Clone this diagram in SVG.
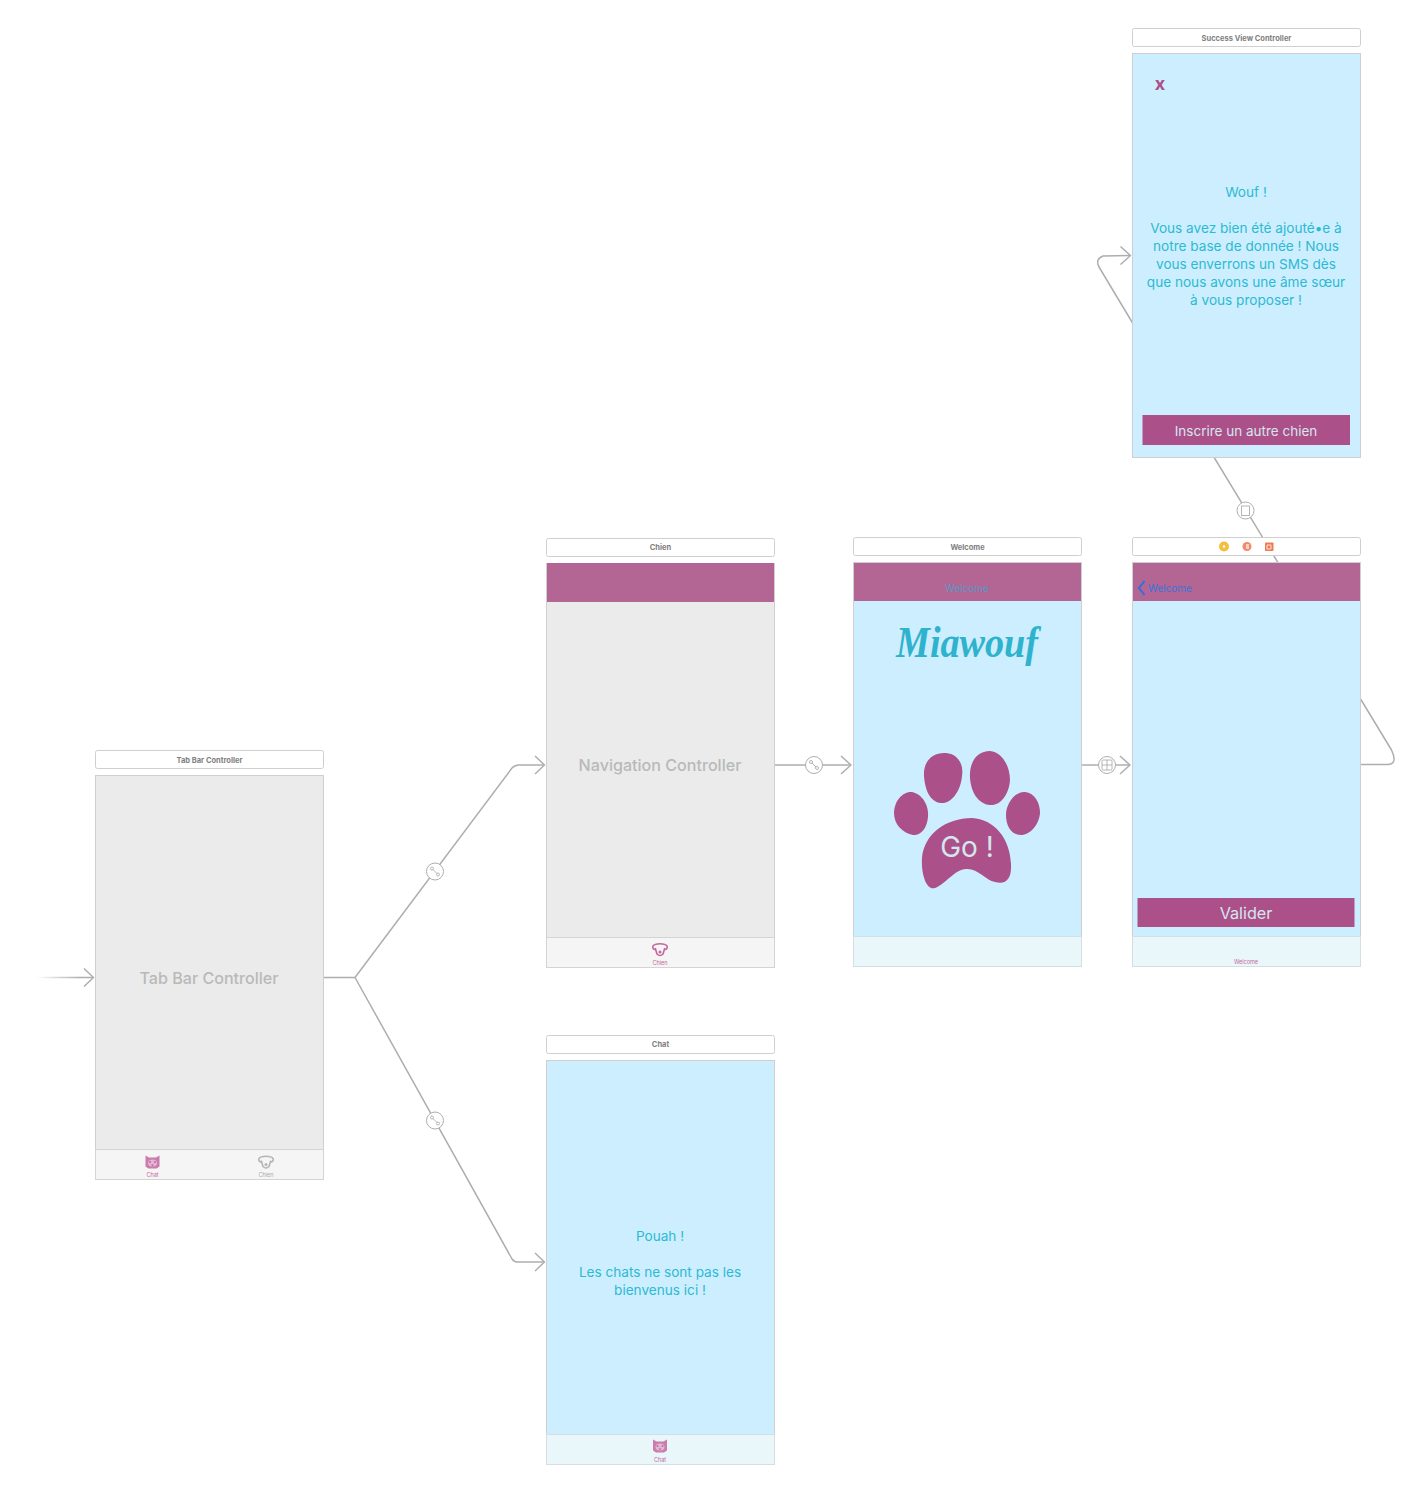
<svg xmlns="http://www.w3.org/2000/svg" width="1428" height="1498" viewBox="0 0 1428 1498">
<style>
text{font-family:"Inter","Liberation Sans",sans-serif;text-anchor:middle}
.title{fill:#fff;stroke:#cfcfcf;stroke-width:1}
.tt{font-size:7.5px;font-weight:700;fill:#808080}
.scr{stroke:#cfcfcf;stroke-width:1}
.blue{fill:#cdeeff}.grey{fill:#ebebeb}
.nav{fill:#b36693}
.bar{fill:#f5f5f5;stroke:#d4d4d4;stroke-width:1}
.bar2{fill:#e9f6fa;stroke:#d4dfe3;stroke-width:1}
.msg{font-size:13.6px;fill:#2cbad2}
.ph{font-size:16.1px;font-weight:500;fill:#b9b9b9}
.tab{font-size:5.5px;fill:#c4669f}
.btn{fill:#ab5088}
.line{fill:none;stroke:#aeaeae;stroke-width:1.5;stroke-linejoin:round}
.badge{fill:#fff;stroke:#aeaeae;stroke-width:1}
.ic{fill:none;stroke:#aeaeae;stroke-width:.9}
.cat{fill:#c4669f;fill-opacity:.85}
</style>
<defs>
<linearGradient id="fade" gradientUnits="userSpaceOnUse" x1="36" y1="0" x2="80" y2="0"><stop offset="0" stop-color="#aeaeae" stop-opacity="0"/><stop offset="1" stop-color="#aeaeae"/></linearGradient>
<g id="cat"><path d="M-7-6.500-3.500-4.500H3.500L7-6.500V4.500L4 6.500H-4L-7 4.500Z" class="cat"/><ellipse cx="0" cy="1" rx="4.500" ry="3.500" fill="#fff" fill-opacity=".45"/><circle cx="-2.500" cy="0" r="1" fill="#c4669f"/><circle cx="2.500" cy="0" r="1" fill="#c4669f"/><path d="M-1.500 2.500H1.500L0 4.500Z" fill="#c4669f"/></g>
<g id="dog"><path d="M-7-3C-5-6 5-6 7-3C8-1 6 1 4.500 0L3 5C1 7-1 7-3 5L-4.500 0C-6 1-8-1-7-3Z" fill="none" stroke="currentColor" stroke-width="1.600"/><circle cx="0" cy="3" r="1.500" fill="currentColor"/></g>
<g id="wrench"><circle cx="-3" cy="-3" r="1.500" class="ic"/><circle cx="3" cy="3" r="1.500" class="ic"/><path d="M-2-2 2 2" class="ic"/></g>
</defs>

<g id="connectors">
<path d="M36 977.500H93" fill="none" stroke="url(#fade)" stroke-width="1.500"/>
<path class="line" d="M84 968.500 93.500 977.500 84 986.500"/>
<path class="line" d="M324 977.500H355L512 768Q515 765 519 765H544"/>
<path class="line" d="M535 756 544.500 765 535 774"/>
<path class="line" d="M355 977.500 512 1259Q514 1262 518 1262H544"/>
<path class="line" d="M535 1253 544.500 1262 535 1271"/>
<path class="line" d="M775 765H851"/>
<path class="line" d="M841 756 851 765 841 774"/>
<path class="line" d="M1082 765H1130"/>
<path class="line" d="M1120 756 1130 765 1120 774"/>
<path class="line" d="M1361 764.500H1388Q1398 764 1391.500 750L1214.500 458 1132 322 1099 267Q1095 259 1103 256L1130 255.500"/>
<path class="line" d="M1120.500 246.500 1130.500 255.500 1120.500 264.500"/>
<circle class="badge" cx="435" cy="871.500" r="8.500"/><use href="#wrench" x="435" y="871.500"/>
<circle class="badge" cx="435" cy="1120.500" r="8.500"/><use href="#wrench" x="435" y="1120.500"/>
<circle class="badge" cx="814" cy="765" r="8.500"/><use href="#wrench" x="814" y="765"/>
<circle class="badge" cx="1107" cy="765" r="8.500"/><rect class="ic" x="1102" y="760" width="10" height="10" rx="1"/><path class="ic" d="M1107 760V770M1102 765H1112"/>
<circle class="badge" cx="1245.500" cy="510.500" r="8.500"/><rect class="ic" x="1241.500" y="506" width="8" height="9.500"/>
</g>

<g id="tab-bar-controller">
<rect class="title" x="95.500" y="750.500" width="228" height="18" rx="2"/>
<text class="tt" x="209.500" y="762.500">Tab Bar Controller</text>
<rect class="scr grey" x="95.500" y="775.500" width="228" height="404"/>
<text class="ph" x="209" y="983.500">Tab Bar Controller</text>
<rect class="bar" x="95.500" y="1149.500" width="228" height="30"/>
<use href="#cat" x="152.500" y="1162"/>
<text class="tab" x="152.500" y="1177">Chat</text>
<use href="#dog" x="266" y="1161.500" style="color:#b5b5b5"/>
<text class="tab" x="266" y="1177" style="fill:#aaa">Chien</text>
</g>

<g id="navigation-controller">
<rect class="title" x="546.500" y="538.500" width="228" height="18" rx="2"/>
<text class="tt" x="660.500" y="550">Chien</text>
<rect class="scr grey" x="546.500" y="563.500" width="228" height="404"/>
<rect class="nav" x="547" y="563" width="227" height="39"/>
<text class="ph" x="660" y="771">Navigation Controller</text>
<rect class="bar" x="546.500" y="937.500" width="228" height="30"/>
<use href="#dog" x="660" y="949" style="color:#c4669f"/>
<text class="tab" x="660" y="965">Chien</text>
</g>

<g id="chat">
<rect class="title" x="546.500" y="1035.500" width="228" height="18" rx="2"/>
<text class="tt" x="660.500" y="1047">Chat</text>
<rect class="scr blue" x="546.500" y="1060.500" width="228" height="404"/>
<text class="msg" x="660" y="1241">Pouah !</text>
<text class="msg" x="660" y="1277">Les chats ne sont pas les</text>
<text class="msg" x="660" y="1295">bienvenus ici !</text>
<rect class="bar2" x="546.500" y="1434.500" width="228" height="30"/>
<use href="#cat" x="660" y="1446"/>
<text class="tab" x="660" y="1462">Chat</text>
</g>

<g id="welcome">
<rect class="title" x="853.500" y="537.500" width="228" height="18" rx="2"/>
<text class="tt" x="967.500" y="549.500">Welcome</text>
<rect class="scr blue" x="853.500" y="562.500" width="228" height="404"/>
<rect class="nav" x="854" y="563" width="227" height="38"/>
<text x="967" y="592" style="font-size:10px;fill:#5b97c4">Welcome</text>
<text x="967" y="657" style="font-family:'Liberation Serif',serif;font-style:italic;font-weight:700;font-size:44px;fill:#2fb3cc" textLength="142" lengthAdjust="spacingAndGlyphs">Miawouf</text>
<path class="btn" d="M924 776C923 760 934 752 946 753C957 754 964 763 962 776C961 790 952 804 941 803C930 802 925 790 924 776Z"/>
<path class="btn" d="M970 778C969 762 977 751 990 751C1002 752 1010 766 1010 780C1009 795 1000 806 990 805C978 804 971 792 970 778Z"/>
<path class="btn" d="M894 813C894 801 903 791 912 792C922 794 929 805 928 817C927 829 920 836 913 835C903 833 894 825 894 813Z"/>
<path class="btn" d="M1006 815C1006 803 1016 791 1025 792C1035 793 1040 803 1040 813C1039 825 1030 835 1021 835C1012 835 1006 827 1006 815Z"/>
<path class="btn" d="M922 858C924 834 946 818 972 818C994 819 1010 838 1011 864C1012 880 1005 885 995 882C985 880 978 868 966 869C955 869 946 884 935 888C926 891 921 873 922 858Z"/>
<text x="967" y="857" style="font-size:28px;fill:#d4e6ef">Go !</text>
<rect class="bar2" x="853.500" y="936.500" width="228" height="30"/>
</g>

<g id="form-view-controller">
<rect class="title" x="1132.500" y="537.500" width="228" height="18" rx="2"/>
<circle cx="1224" cy="546.500" r="5" fill="#f5bd3c"/><circle cx="1224" cy="546.500" r="1.300" fill="#fff"/>
<circle cx="1247" cy="546.500" r="4.500" fill="#ef8a6c"/><rect x="1246" y="544" width="3" height="5" fill="#fff" fill-opacity=".6"/>
<rect x="1265" y="542.500" width="8.500" height="8.500" rx="1" fill="#ef7b50"/><path d="M1267 545H1271V549H1267Z" fill="none" stroke="#fff" stroke-width=".8"/>
<rect class="scr blue" x="1132.500" y="562.500" width="228" height="404"/>
<rect class="nav" x="1133" y="563" width="227" height="38"/>
<path d="M1144.500 581 1139 588 1144.500 595" fill="none" stroke="#2f6fe0" stroke-width="2"/>
<text x="1170" y="592" style="font-size:10px;fill:#3a74d8">Welcome</text>
<rect class="btn" x="1137.500" y="898" width="217" height="29"/>
<text x="1246" y="919" style="font-size:16.200px;fill:#d4e6ef">Valider</text>
<rect class="bar2" x="1132.500" y="936.500" width="228" height="30"/>
<text class="tab" x="1246" y="964">Welcome</text>
</g>

<g id="success-view-controller">
<rect class="title" x="1132.500" y="28.500" width="228" height="18" rx="2"/>
<text class="tt" x="1246.500" y="40.500">Success View Controller</text>
<rect class="scr blue" x="1132.500" y="53.500" width="228" height="404"/>
<text x="1160" y="90" style="font-size:18px;font-weight:700;fill:#ab5088">x</text>
<text class="msg" x="1246" y="197">Wouf !</text>
<text class="msg" x="1246" y="233">Vous avez bien été ajouté•e à</text>
<text class="msg" x="1246" y="251">notre base de donnée ! Nous</text>
<text class="msg" x="1246" y="269">vous enverrons un SMS dès</text>
<text class="msg" x="1246" y="287">que nous avons une âme sœur</text>
<text class="msg" x="1246" y="305">à vous proposer !</text>
<rect class="btn" x="1142.500" y="415" width="207.500" height="30"/>
<text x="1246" y="436" style="font-size:13.500px;fill:#d4e6ef">Inscrire un autre chien</text>
</g>
</svg>
